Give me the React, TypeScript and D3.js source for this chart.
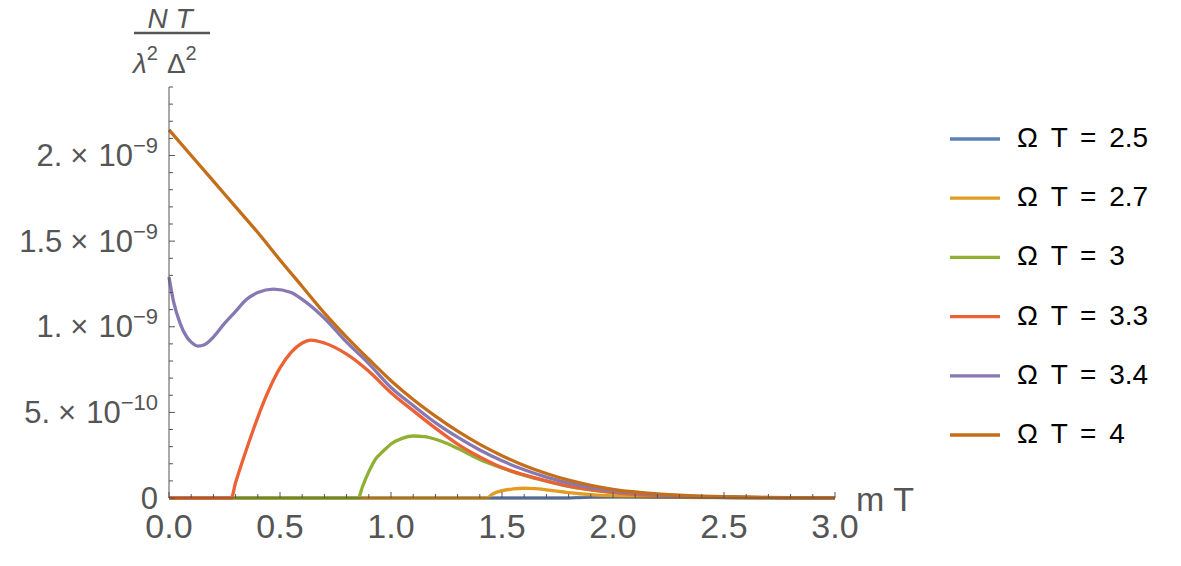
import React from 'react';
import * as d3 from 'd3';

// values are in units of 1e-9 (N T / λ² Δ²), x is m T
const UNIT = 1e-9;

const seriesNames = ['Ω T = 2.5', 'Ω T = 2.7', 'Ω T = 3', 'Ω T = 3.3', 'Ω T = 3.4', 'Ω T = 4'];
const seriesColors = ['#5E81B5', '#E19C24', '#8FB032', '#EB6235', '#8778B3', '#C56E1A'];

const omega25 = [[0, 0], [1.8, 0], [1.85, 0.003], [1.9, 0.006], [2.0, 0.008], [2.1, 0.008], [2.2, 0.007], [2.3, 0.0055], [2.4, 0.004], [2.5, 0.003], [2.6, 0.002], [2.8, 0.001], [3.0, 0.0005]];

const omega27 = [[0, 0], [1.43, 0], [1.46, 0.025], [1.5, 0.043], [1.55, 0.053], [1.6, 0.057], [1.65, 0.055], [1.7, 0.048], [1.8, 0.032], [1.9, 0.02], [2.0, 0.012], [2.1, 0.0075], [2.2, 0.005], [2.3, 0.0035], [2.4, 0.0025], [2.5, 0.0018], [2.6, 0.0013], [2.8, 0.0007], [3.0, 0.0004]];

const omega3 = [[0, 0], [0.853, 0], [0.87, 0.06], [0.89, 0.125], [0.91, 0.18], [0.935, 0.235], [0.95, 0.255], [0.97, 0.28], [1.0, 0.315], [1.05, 0.348], [1.1, 0.362], [1.15, 0.358], [1.2, 0.343], [1.25, 0.32], [1.3, 0.29], [1.35, 0.257], [1.4, 0.225], [1.45, 0.199], [1.5, 0.175], [1.6, 0.132], [1.7, 0.098], [1.8, 0.068], [1.9, 0.047], [2.0, 0.032], [2.1, 0.021], [2.2, 0.014], [2.3, 0.0095], [2.4, 0.0063], [2.5, 0.0043], [2.6, 0.0029], [2.8, 0.0013], [3.0, 0.0005]];

const omega33 = [[0, 0], [0.28, 0], [0.3, 0.09], [0.34, 0.25], [0.38, 0.4], [0.42, 0.54], [0.46, 0.66], [0.5, 0.76], [0.55, 0.85], [0.6, 0.905], [0.64, 0.922], [0.7, 0.905], [0.8, 0.84], [0.9, 0.74], [1.0, 0.615], [1.1, 0.51], [1.2, 0.408], [1.3, 0.315], [1.4, 0.24], [1.5, 0.178], [1.6, 0.135], [1.7, 0.1], [1.8, 0.07], [1.9, 0.049], [2.0, 0.033], [2.1, 0.022], [2.2, 0.0145], [2.3, 0.0097], [2.4, 0.0065], [2.5, 0.0045], [2.6, 0.003], [2.7, 0.002], [2.8, 0.0013], [2.9, 0.0009], [3.0, 0.0006]];

const omega34 = [[0, 1.29], [0.02, 1.15], [0.05, 1.02], [0.08, 0.94], [0.1, 0.91], [0.13, 0.887], [0.16, 0.895], [0.2, 0.94], [0.25, 1.02], [0.3, 1.09], [0.35, 1.16], [0.4, 1.2], [0.47, 1.22], [0.55, 1.2], [0.6, 1.16], [0.7, 1.05], [0.8, 0.91], [0.9, 0.785], [1.0, 0.645], [1.1, 0.54], [1.2, 0.44], [1.3, 0.355], [1.4, 0.28], [1.5, 0.217], [1.6, 0.165], [1.7, 0.122], [1.8, 0.087], [1.9, 0.061], [2.0, 0.042], [2.1, 0.028], [2.2, 0.019], [2.3, 0.0128], [2.4, 0.0085], [2.5, 0.0057], [2.6, 0.0038], [2.7, 0.0025], [2.8, 0.0016], [2.9, 0.001], [3.0, 0.0007]];

const omega4 = [[0, 2.15], [0.1, 2.0], [0.2, 1.85], [0.3, 1.7], [0.4, 1.55], [0.5, 1.39], [0.6, 1.235], [0.7, 1.08], [0.8, 0.94], [0.9, 0.81], [1.0, 0.685], [1.1, 0.575], [1.2, 0.478], [1.3, 0.39], [1.4, 0.313], [1.5, 0.247], [1.6, 0.19], [1.7, 0.143], [1.8, 0.104], [1.9, 0.074], [2.0, 0.051], [2.1, 0.035], [2.2, 0.024], [2.3, 0.016], [2.4, 0.0108], [2.5, 0.0072], [2.6, 0.0048], [2.7, 0.0032], [2.8, 0.0021], [2.9, 0.0014], [3.0, 0.0009]];

const allSeries = [omega25, omega27, omega3, omega33, omega34, omega4];

const xTicks = [0, 0.5, 1, 1.5, 2, 2.5, 3];
const xTickLabels = ['0.0', '0.5', '1.0', '1.5', '2.0', '2.5', '3.0'];
const yTicks = [0, 0.5, 1, 1.5, 2];
const yMantissa = ['0', '5.', '1.', '1.5', '2.'];
const yExponent = ['', '−10', '−9', '−9', '−9'];

const W = 1181;
const H = 566;
const gray = '#555555';
const font = '"Liberation Sans", Arial, sans-serif';

export default function App() {
  const x = d3.scaleLinear().domain([0, 3]).range([169, 835]);
  const y = d3.scaleLinear().domain([0, 2.4 * UNIT]).range([498, 87]);

  const line = d3.line<number[]>()
    .x(d => x(d[0]))
    .y(d => y(d[1] * UNIT))
    .curve(d3.curveMonotoneX);

  const xMinor = d3.range(0, 31).map(i => i / 10);
  const yMinor = d3.range(0, 25).map(i => i / 10);

  return (
    <svg width={W} height={H} style={{ position: 'absolute', left: 0, top: 0, background: '#fff' }}
      fontFamily={font}>
      {/* curves, later series on top */}
      {allSeries.map((s, i) => (
        <path key={i} d={line(s) || ''} fill="none" stroke={seriesColors[i]} strokeWidth={3.3} strokeLinejoin="round" />
      ))}

      {/* axes */}
      <line x1={x(0)} x2={x(3)} y1={y(0)} y2={y(0)} stroke={gray} strokeWidth={1} />
      <line x1={x(0)} x2={x(0)} y1={y(0)} y2={y(2.4 * UNIT)} stroke={gray} strokeWidth={1} />

      {xMinor.map(t => {
        const major = Math.abs(t * 2 - Math.round(t * 2)) < 1e-6;
        return <line key={'xm' + t} x1={x(t)} x2={x(t)} y1={y(0)} y2={y(0) - (major ? 6 : 4)} stroke={gray} />;
      })}
      {yMinor.map(t => {
        const major = Math.abs(t * 2 - Math.round(t * 2)) < 1e-6;
        return <line key={'ym' + t} x1={x(0)} x2={x(0) + (major ? 6 : 4)} y1={y(t * UNIT)} y2={y(t * UNIT)} stroke={gray} />;
      })}

      {xTicks.map((t, i) => (
        <text key={'xl' + t} x={x(t)} y={y(0) + 40} textAnchor="middle" fontSize={34} fill={gray}>{xTickLabels[i]}</text>
      ))}
      {yTicks.map((t, i) => (
        <text key={'yl' + t} x={158} y={y(t * UNIT) + 10.5} textAnchor="end" fontSize={31} fill={gray}>
          {yExponent[i] ? (
            <>
              <tspan>{yMantissa[i]}</tspan>
              <tspan dx={8}>×</tspan>
              <tspan dx={10}>10</tspan>
              <tspan dy={-13} fontSize={22}>{yExponent[i]}</tspan>
            </>
          ) : yMantissa[i]}
        </text>
      ))}

      {/* axis labels */}
      <text x={856} y={510.5} fontSize={34} fill={gray}>m T</text>
      <text x={170} y={28} textAnchor="middle" fontSize={28} fontStyle="italic" fill={gray}>N T</text>
      <line x1={134} x2={210} y1={33} y2={33} stroke={gray} strokeWidth={2.5} />
      <text x={133} y={73} fontSize={28} fill={gray}>
        <tspan fontStyle="italic">λ</tspan>
        <tspan dy={-13} fontSize={20}>2</tspan>
        <tspan dx={9} dy={13}>Δ</tspan>
        <tspan dy={-13} fontSize={20}>2</tspan>
      </text>

      {/* legend */}
      {seriesNames.map((name, i) => {
        const ly = 139 + i * 59.2;
        return (
          <g key={name}>
            <line x1={950} x2={1000} y1={ly} y2={ly} stroke={seriesColors[i]} strokeWidth={3.3} />
            <text x={1017} y={ly + 8} fontSize={28} fill="#000" wordSpacing={5}>{name}</text>
          </g>
        );
      })}
    </svg>
  );
}
